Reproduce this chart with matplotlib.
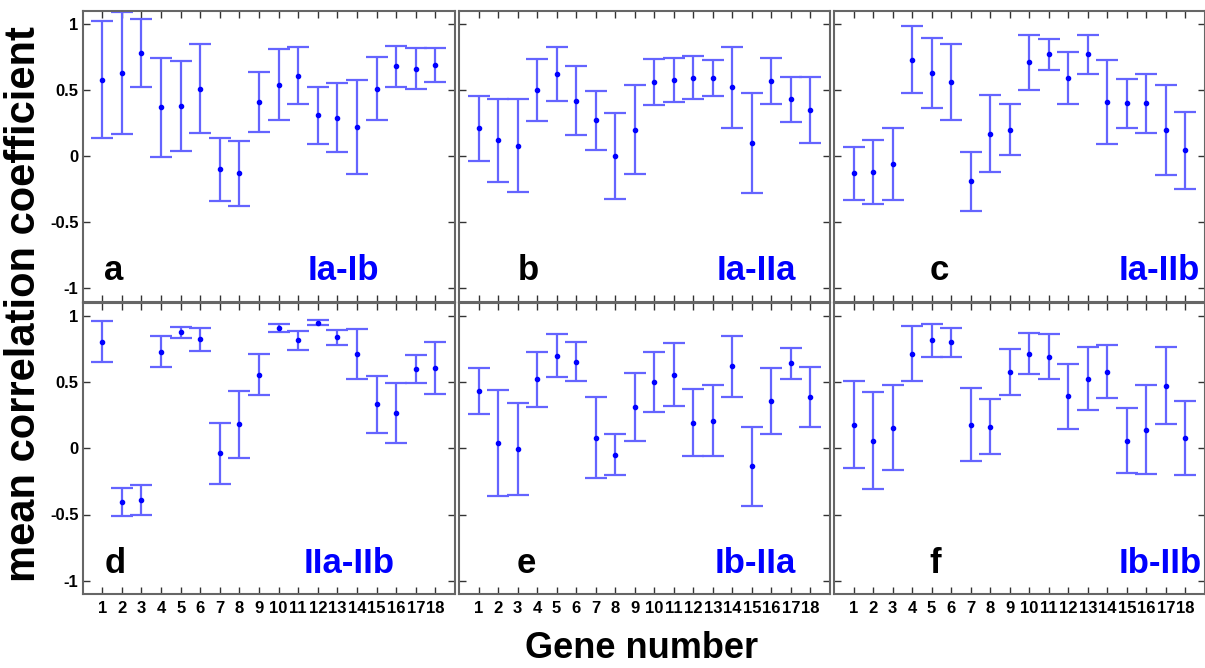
import numpy as np
import matplotlib
matplotlib.use('Agg')
import matplotlib.pyplot as plt

plt.rcParams['font.family'] = ['Liberation Sans', 'DejaVu Sans']
plt.rcParams['font.weight'] = 'bold'

genes = np.arange(1, 19)

# mean correlation and half-width of the error bar, one pair per panel
mean_a = [0.58, 0.63, 0.78, 0.37, 0.38, 0.51, -0.10, -0.13, 0.41, 0.54, 0.61, 0.31, 0.29, 0.22, 0.51, 0.68, 0.66, 0.69]
err_a = [0.44, 0.46, 0.26, 0.375, 0.34, 0.335, 0.24, 0.245, 0.225, 0.27, 0.215, 0.215, 0.26, 0.355, 0.24, 0.155, 0.155, 0.13]
mean_b = [0.21, 0.12, 0.08, 0.50, 0.62, 0.42, 0.27, 0.00, 0.20, 0.56, 0.575, 0.595, 0.59, 0.52, 0.10, 0.57, 0.43, 0.35]
err_b = [0.245, 0.315, 0.35, 0.235, 0.205, 0.26, 0.22, 0.325, 0.335, 0.175, 0.165, 0.16, 0.135, 0.305, 0.38, 0.175, 0.17, 0.25]
mean_c = [-0.13, -0.12, -0.06, 0.73, 0.63, 0.56, -0.19, 0.17, 0.20, 0.71, 0.77, 0.59, 0.77, 0.41, 0.40, 0.40, 0.20, 0.045]
err_c = [0.20, 0.24, 0.27, 0.255, 0.265, 0.29, 0.225, 0.29, 0.195, 0.21, 0.115, 0.195, 0.15, 0.315, 0.185, 0.225, 0.34, 0.29]
mean_d = [0.805, -0.405, -0.39, 0.73, 0.875, 0.823, -0.038, 0.18, 0.556, 0.91, 0.815, 0.947, 0.838, 0.71, 0.332, 0.264, 0.60, 0.607]
err_d = [0.157, 0.108, 0.115, 0.114, 0.042, 0.087, 0.232, 0.25, 0.155, 0.03, 0.072, 0.018, 0.058, 0.19, 0.215, 0.225, 0.105, 0.198]
mean_e = [0.433, 0.04, -0.005, 0.52, 0.70, 0.654, 0.08, -0.05, 0.31, 0.50, 0.556, 0.194, 0.209, 0.62, -0.136, 0.357, 0.64, 0.387]
err_e = [0.172, 0.40, 0.35, 0.21, 0.16, 0.15, 0.307, 0.155, 0.255, 0.23, 0.24, 0.25, 0.265, 0.23, 0.297, 0.247, 0.118, 0.224]
mean_f = [0.179, 0.058, 0.156, 0.714, 0.815, 0.80, 0.179, 0.163, 0.578, 0.714, 0.69, 0.392, 0.523, 0.578, 0.058, 0.141, 0.473, 0.08]
err_f = [0.33, 0.363, 0.32, 0.208, 0.126, 0.11, 0.275, 0.208, 0.173, 0.153, 0.17, 0.245, 0.238, 0.20, 0.244, 0.333, 0.29, 0.279]

letters = ['a', 'b', 'c', 'd', 'e', 'f']
pairs = ['Ia-Ib', 'Ia-IIa', 'Ia-IIb', 'IIa-IIb', 'Ib-IIa', 'Ib-IIb']
letter_x = [1.1, 3.0, 4.9, 1.1, 2.95, 4.9]
pair_x = [11.5, 13.2, 14.6, 11.3, 13.1, 14.6]
means = [mean_a, mean_b, mean_c, mean_d, mean_e, mean_f]
errs = [err_a, err_b, err_c, err_d, err_e, err_f]

yticks = [-1, -0.5, 0, 0.5, 1]
ytick_labels = ['-1', '-0.5', '0', '0.5', '1']

W, H = 1205, 668
fig = plt.figure(figsize=(W / 100, H / 100), dpi=100)

col_left = [82.7, 459.0, 834.0]
col_right = [455.0, 830.0, 1205.0]
row_top = [10.8, 302.5]
row_bot = [301.5, 594.0]

for k in range(6):
    r, c = divmod(k, 3)
    ax = fig.add_axes([col_left[c] / W, 1 - row_bot[r] / H,
                       (col_right[c] - col_left[c]) / W,
                       (row_bot[r] - row_top[r]) / H])
    ax.errorbar(genes, means[k], yerr=errs[k], fmt='none', ecolor='#6464ff',
                elinewidth=1.6, capsize=7.8, capthick=1.6)
    ax.plot(genes, means[k], '.', color='#0000ff', ms=6)
    ax.set_xlim(0, 19)
    ax.set_ylim(-1.1, 1.1)
    ax.set_xticks(genes)
    ax.set_yticks(yticks)
    if r == 1:
        ax.set_xticklabels([str(g) for g in genes])
    else:
        ax.set_xticklabels([])
    if c == 0:
        ax.set_yticklabels(ytick_labels)
    else:
        ax.set_yticklabels([])
    ax.tick_params(direction='in', top=True, right=True, length=5, width=1,
                   color='#333333', labelsize=12)
    ax.tick_params(axis='x', pad=5)
    ax.tick_params(axis='y', pad=3)
    for lab in ax.get_xticklabels() + ax.get_yticklabels():
        lab.set_fontweight('bold')
    for sp in ax.spines.values():
        sp.set_color('#666666')
        sp.set_linewidth(1.5)
    ax.text(letter_x[k], -0.94, letters[k], fontsize=25, fontweight='bold',
            color='black', va='baseline', ha='left')
    ax.text(pair_x[k], -0.94, pairs[k], fontsize=25, fontweight='bold',
            color='#0000ff', va='baseline', ha='left')

fig.text(24 / W, 0.545, 'mean correlation coefficient', rotation=90,
         fontsize=30, fontweight='bold', ha='center', va='center')
fig.text(642 / W, 1 - 648 / H, 'Gene number', fontsize=26,
         fontweight='bold', ha='center', va='center')

fig.savefig('out.png', dpi=100)
